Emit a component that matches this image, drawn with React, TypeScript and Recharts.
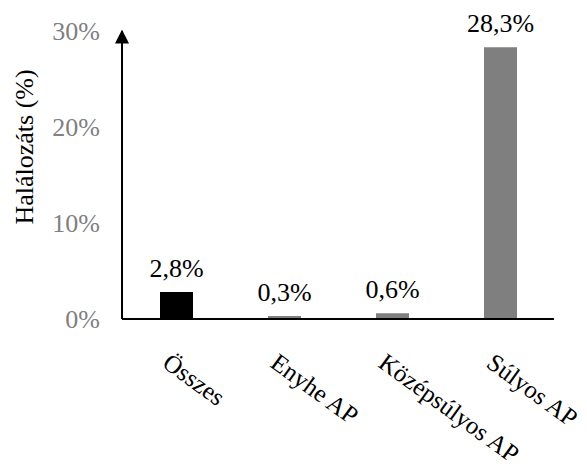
import React from "react"
import { BarChart, Bar, XAxis, YAxis, Cell, LabelList } from "recharts"

const categories = ["Összes", "Enyhe AP", "Középsúlyos AP", "Súlyos AP"]
const mortality = [2.8, 0.3, 0.6, 28.3]
const barColors = ["#000000", "#7f7f7f", "#7f7f7f", "#7f7f7f"]
const yTicks = [0, 10, 20, 30]

const data = categories.map((name, i) => ({ name, value: mortality[i] }))

const FONT = "'Liberation Serif', 'Times New Roman', serif"
const pct = (v: number) => `${String(v).replace(".", ",")}%`

// slanted category labels hanging below the axis
function CategoryTick({ x, y, payload }: any) {
  const tx = x - 15
  const ty = y + 45
  return (
    <text
      x={tx}
      y={ty}
      transform={`rotate(36, ${tx}, ${ty})`}
      textAnchor="start"
      fontFamily={FONT}
      fontSize={25}
      fill="#000"
    >
      {payload.value}
    </text>
  )
}

export default function App() {
  return (
    <div style={{ position: "absolute", left: 0, top: 0, width: 587, height: 470, background: "#fff" }}>
      <BarChart
        width={587}
        height={470}
        data={data}
        margin={{ top: 31, right: 33, bottom: 11, left: 0 }}
      >
        <defs>
          <marker
            id="axisArrow"
            viewBox="0 0 10 10"
            refX="9"
            refY="5"
            markerWidth="14"
            markerHeight="14"
            markerUnits="userSpaceOnUse"
            orient="auto-start-reverse"
          >
            <path d="M0,0 L10,5 L0,10 z" fill="#000" />
          </marker>
        </defs>
        <XAxis
          dataKey="name"
          height={140}
          tickLine={false}
          tickSize={0}
          interval={0}
          axisLine={{ stroke: "#000", strokeWidth: 2 }}
          tick={<CategoryTick />}
        />
        <YAxis
          width={122}
          domain={[0, 30]}
          ticks={yTicks}
          tickFormatter={(v: number) => `${v}%`}
          tickLine={false}
          tickSize={0}
          tickMargin={22}
          axisLine={{ stroke: "#000", strokeWidth: 2, markerStart: "url(#axisArrow)" }}
          tick={{ fill: "#808080", fontFamily: FONT, fontSize: 26 }}
        />
        <text
          x={24}
          y={147}
          transform="rotate(-90, 24, 147)"
          textAnchor="middle"
          dominantBaseline="central"
          fontFamily={FONT}
          fontSize={26}
          fill="#000"
        >
          Halálozáts (%)
        </text>
        <Bar dataKey="value" barSize={33} isAnimationActive={false}>
          {data.map((_, i) => (
            <Cell key={i} fill={barColors[i]} />
          ))}
          <LabelList
            dataKey="value"
            position="top"
            offset={15}
            formatter={(v: any) => pct(v)}
            style={{ fill: "#000", fontFamily: FONT, fontSize: 26 }}
          />
        </Bar>
      </BarChart>
    </div>
  )
}
